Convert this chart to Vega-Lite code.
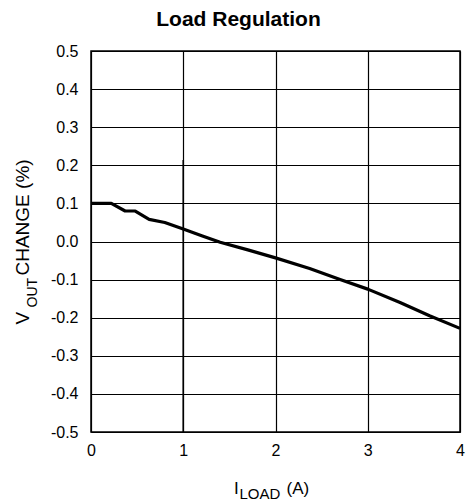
{
  "$schema": "https://vega.github.io/schema/vega-lite/v6.json",
  "width": 369,
  "height": 381,
  "autosize": {"type": "none"},
  "padding": {"left": 91, "top": 51, "right": 8, "bottom": 70},
  "background": "white",
  "title": {
    "text": "Load Regulation",
    "anchor": "middle",
    "frame": "group",
    "dx": -37,
    "dy": 21,
    "offset": 17,
    "baseline": "alphabetic",
    "fontSize": 21,
    "fontWeight": "bold",
    "font": "Liberation Sans",
    "color": "black"
  },
  "layer": [
    {
      "data": {
        "values": [
          {"iload": 0.0, "change": 0.1},
          {"iload": 0.22, "change": 0.1},
          {"iload": 0.37, "change": 0.08},
          {"iload": 0.48, "change": 0.08},
          {"iload": 0.63, "change": 0.058},
          {"iload": 0.8, "change": 0.05},
          {"iload": 1.0, "change": 0.033},
          {"iload": 1.2, "change": 0.015},
          {"iload": 1.4, "change": -0.002},
          {"iload": 1.7, "change": -0.022},
          {"iload": 2.0, "change": -0.043},
          {"iload": 2.37, "change": -0.071},
          {"iload": 2.7, "change": -0.1},
          {"iload": 3.0, "change": -0.125},
          {"iload": 3.35, "change": -0.16},
          {"iload": 3.67, "change": -0.195},
          {"iload": 4.0, "change": -0.228}
        ]
      },
      "mark": {"type": "line", "color": "black", "strokeWidth": 3.2, "strokeJoin": "round", "clip": true},
      "encoding": {
        "x": {
          "field": "iload",
          "type": "quantitative",
          "scale": {"domain": [0, 4], "nice": false, "zero": false},
          "axis": {
            "orient": "bottom",
            "values": [0, 1, 2, 3, 4],
            "format": "d",
            "grid": true,
            "gridColor": "black",
            "gridWidth": 1.2,
            "gridOpacity": 1,
            "ticks": false,
            "tickSize": 0,
            "domain": false,
            "labelPadding": 10,
            "labelFontSize": 16,
            "labelColor": "black",
            "labelFont": "Liberation Sans",
            "labelFlush": false,
            "labelOverlap": false,
            "title": "I",
            "titleFont": "Liberation Sans",
            "titleFontSize": 17,
            "titleFontWeight": "normal",
            "titleColor": "black",
            "titleAlign": "left",
            "titleBaseline": "alphabetic",
            "titleAngle": 0,
            "titleX": 142.5,
            "titleY": 61
          }
        },
        "y": {
          "field": "change",
          "type": "quantitative",
          "scale": {"domain": [-0.5, 0.5], "nice": false, "zero": false},
          "axis": {
            "orient": "left",
            "values": [-0.5, -0.4, -0.3, -0.2, -0.1, 0, 0.1, 0.2, 0.3, 0.4, 0.5],
            "labelExpr": "replace(format(datum.value, '.1f'), '\u2212', '-')",
            "grid": true,
            "gridColor": "black",
            "gridWidth": 1.2,
            "gridOpacity": 1,
            "ticks": false,
            "tickSize": 0,
            "domain": false,
            "labelPadding": 13,
            "labelFontSize": 16,
            "labelColor": "black",
            "labelFont": "Liberation Sans",
            "labelFlush": false,
            "labelOverlap": false,
            "title": "V",
            "titleFont": "Liberation Sans",
            "titleFontSize": 19,
            "titleFontWeight": "normal",
            "titleColor": "black",
            "titleAngle": 270,
            "titleAlign": "left",
            "titleBaseline": "alphabetic",
            "titleX": -63,
            "titleY": 273
          }
        }
      }
    },
    {
      "data": {"values": [{"iload": 1, "top": 0.214, "bottom": 0}]},
      "mark": {"type": "rule", "color": "black", "strokeWidth": 1.6},
      "encoding": {
        "x": {
          "field": "iload",
          "type": "quantitative",
          "axis": {
            "orient": "bottom",
            "title": "LOAD",
            "labels": false,
            "ticks": false,
            "domain": false,
            "grid": false,
            "titleFont": "Liberation Sans",
            "titleFontSize": 15,
            "titleFontWeight": "normal",
            "titleColor": "black",
            "titleAlign": "left",
            "titleBaseline": "alphabetic",
            "titleAngle": 0,
            "titleX": 148,
            "titleY": 66
          }
        },
        "y": {
          "field": "top",
          "type": "quantitative",
          "axis": {
            "orient": "left",
            "title": "OUT",
            "labels": false,
            "ticks": false,
            "domain": false,
            "grid": false,
            "titleFont": "Liberation Sans",
            "titleFontSize": 14,
            "titleFontWeight": "normal",
            "titleColor": "black",
            "titleAngle": 270,
            "titleAlign": "left",
            "titleBaseline": "alphabetic",
            "titleX": -55,
            "titleY": 256
          }
        },
        "y2": {"field": "bottom"}
      }
    },
    {
      "data": {"values": [{"iload": 1, "top": 0, "bottom": -0.5}]},
      "mark": {"type": "rule", "color": "black", "strokeWidth": 1.6},
      "encoding": {
        "x": {
          "field": "iload",
          "type": "quantitative",
          "axis": {
            "orient": "bottom",
            "title": "(A)",
            "labels": false,
            "ticks": false,
            "domain": false,
            "grid": false,
            "titleFont": "Liberation Sans",
            "titleFontSize": 17,
            "titleFontWeight": "normal",
            "titleColor": "black",
            "titleAlign": "left",
            "titleBaseline": "alphabetic",
            "titleAngle": 0,
            "titleX": 195,
            "titleY": 61
          }
        },
        "y": {
          "field": "top",
          "type": "quantitative",
          "axis": {
            "orient": "left",
            "title": "CHANGE (%)",
            "labels": false,
            "ticks": false,
            "domain": false,
            "grid": false,
            "titleFont": "Liberation Sans",
            "titleFontSize": 19,
            "titleFontWeight": "normal",
            "titleColor": "black",
            "titleAngle": 270,
            "titleAlign": "left",
            "titleBaseline": "alphabetic",
            "titleX": -63,
            "titleY": 224
          }
        },
        "y2": {"field": "bottom"}
      }
    }
  ],
  "resolve": {"axis": {"x": "independent", "y": "independent"}},
  "config": {
    "font": "Liberation Sans",
    "view": {"stroke": "black", "strokeWidth": 1.5}
  }
}
